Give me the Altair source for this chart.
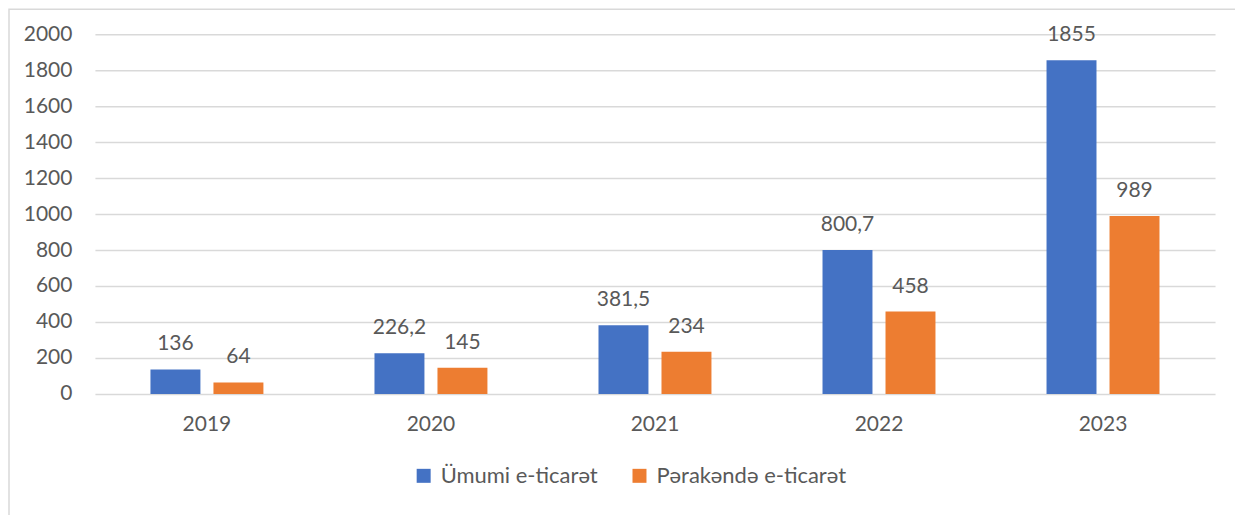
import altair as alt
import pandas as pd

years = ["2019", "2020", "2021", "2022", "2023"]
series = ["Ümumi e-ticarət", "Pərakəndə e-ticarət"]
total_vals = [136, 226.2, 381.5, 800.7, 1855]
retail_vals = [64, 145, 234, 458, 989]
total_labels = ["136", "226,2", "381,5", "800,7", "1855"]
retail_labels = ["64", "145", "234", "458", "989"]
y_ticks = [0, 200, 400, 600, 800, 1000, 1200, 1400, 1600, 1800, 2000]
colors = ["#4472C4", "#ED7D31"]

rows = []
for i, y in enumerate(years):
    rows.append({"year": y, "series": series[0], "value": total_vals[i], "label": total_labels[i]})
    rows.append({"year": y, "series": series[1], "value": retail_vals[i], "label": retail_labels[i]})
df = pd.DataFrame(rows)

FONT = "Lato"
GRAY = "#595959"
FS = 21

x = alt.X("year:N", title=None, sort=years,
          scale=alt.Scale(paddingInner=0, paddingOuter=0),
          axis=alt.Axis(labelAngle=0, labelFontSize=FS, labelColor=GRAY, labelFont=FONT,
                        ticks=False, domain=False, labelPadding=20, grid=False))
xo = alt.XOffset("series:N", sort=series,
                 scale=alt.Scale(paddingInner=0.206, paddingOuter=0.881))

yscale = alt.Scale(domain=[0, 2000], nice=False)
yaxis = alt.Axis(values=y_ticks, format="d", labelOverlap=False,
                 labelFontSize=FS, labelColor=GRAY,
                 labelFont=FONT, ticks=False, domain=False, labelPadding=23,
                 grid=True, gridColor="#D9D9D9", gridWidth=1.5)

base = alt.Chart(df)

bars = base.mark_bar(width=50).encode(
    x=x, xOffset=xo,
    y=alt.Y("value:Q", title=None, scale=yscale, axis=yaxis),
    color=alt.Color("series:N", sort=series,
                    scale=alt.Scale(domain=series, range=colors),
                    legend=alt.Legend(title=None, orient="none", direction="horizontal",
                                      legendX=318, legendY=431,
                                      symbolType="square", symbolSize=196,
                                      symbolStrokeWidth=0, labelLimit=400,
                                      labelFontSize=22, labelColor=GRAY, labelFont=FONT,
                                      columnPadding=30, labelOffset=6)),
)

labels = base.mark_text(fontSize=FS, font=FONT, color=GRAY, baseline="middle", dy=-25).encode(
    x=x, xOffset=xo, y=alt.Y("value:Q", title=None, scale=yscale, axis=yaxis), text="label:N"
)

border = alt.Chart(pd.DataFrame({"a": [0]})).mark_rect(
    fill=None, stroke="#D9D9D9", strokeWidth=1.5
).encode(x=alt.value(-86), x2=alt.value(1160), y=alt.value(-25), y2=alt.value(500))

chart = alt.layer(bars, labels, border).properties(
    width=1121, height=360,
    autosize=alt.AutoSizeParams(type="none"),
    padding={"left": 87, "top": 26, "right": 20, "bottom": 121},
).configure_view(stroke=None)

chart.save("out.html", embed_options={"renderer": "svg", "actions": False})
